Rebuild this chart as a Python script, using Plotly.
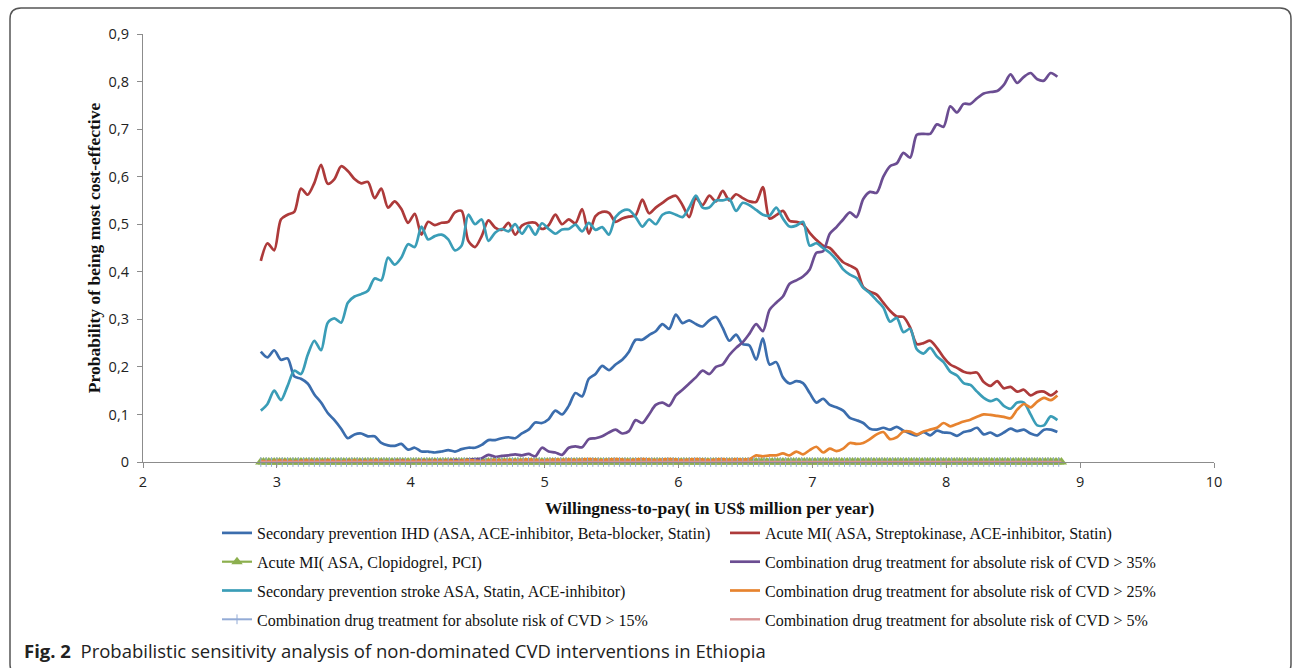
import numpy as np
import plotly.graph_objects as go

# ---------------- data ----------------
# willingness-to-pay grid (US$ million per year)
WTP = [round(2.88 + 0.05 * i, 2) for i in range(120)]
WTP_FINE = [round(2.88 + 0.02 * i, 2) for i in range(300)]

ihd = [0.232,0.22,0.235,0.215,0.218,0.18,0.175,0.165,0.142,0.125,
       0.103,0.088,0.07,0.05,0.058,0.06,0.054,0.054,0.04,0.035,
       0.034,0.038,0.026,0.03,0.022,0.022,0.02,0.022,0.025,0.022,
       0.027,0.03,0.03,0.036,0.046,0.046,0.05,0.052,0.05,0.06,
       0.068,0.083,0.082,0.09,0.108,0.1,0.118,0.145,0.138,0.175,
       0.185,0.202,0.193,0.205,0.215,0.232,0.257,0.257,0.267,0.275,
       0.29,0.28,0.31,0.292,0.298,0.29,0.285,0.298,0.305,0.282,
       0.255,0.268,0.248,0.245,0.215,0.26,0.205,0.21,0.178,0.165,
       0.17,0.166,0.145,0.125,0.133,0.12,0.115,0.108,0.093,0.088,
       0.082,0.07,0.068,0.072,0.068,0.074,0.066,0.06,0.056,0.063,
       0.056,0.066,0.062,0.061,0.055,0.063,0.066,0.072,0.058,0.062,
       0.055,0.062,0.07,0.065,0.068,0.06,0.056,0.068,0.068,0.063]

ami_strepto = [0.423,0.46,0.445,0.51,0.52,0.526,0.575,0.562,0.587,0.625,
       0.585,0.595,0.622,0.612,0.595,0.586,0.589,0.555,0.575,0.535,
       0.548,0.532,0.503,0.522,0.478,0.505,0.498,0.503,0.505,0.525,
       0.528,0.465,0.452,0.475,0.508,0.493,0.488,0.503,0.478,0.497,
       0.503,0.503,0.49,0.498,0.52,0.5,0.51,0.502,0.532,0.48,
       0.517,0.526,0.524,0.505,0.512,0.516,0.519,0.552,0.523,0.535,
       0.545,0.555,0.56,0.54,0.515,0.555,0.54,0.56,0.548,0.57,
       0.55,0.563,0.555,0.548,0.547,0.578,0.512,0.519,0.528,0.507,
       0.505,0.5,0.482,0.467,0.455,0.45,0.435,0.42,0.413,0.405,
       0.368,0.358,0.352,0.335,0.318,0.306,0.305,0.283,0.248,0.25,
       0.255,0.24,0.22,0.205,0.198,0.19,0.187,0.188,0.168,0.16,
       0.17,0.155,0.158,0.148,0.152,0.14,0.147,0.148,0.14,0.15]

ami_clopi = [0.0] * 300

cvd35 = [0.0,0.001,0.0,0.002,0.001,0.0,0.002,0.001,0.0,0.001,
       0.002,0.001,0.0,0.002,0.001,0.002,0.001,0.0,0.002,0.001,
       0.002,0.003,0.001,0.002,0.003,0.002,0.003,0.002,0.003,0.004,
       0.003,0.005,0.006,0.008,0.015,0.011,0.013,0.014,0.016,0.014,
       0.017,0.012,0.03,0.022,0.02,0.015,0.03,0.033,0.031,0.048,
       0.05,0.054,0.062,0.068,0.06,0.065,0.088,0.082,0.1,0.12,
       0.125,0.118,0.14,0.152,0.165,0.178,0.192,0.185,0.2,0.205,
       0.225,0.24,0.252,0.27,0.29,0.275,0.32,0.335,0.348,0.375,
       0.382,0.39,0.405,0.44,0.443,0.48,0.494,0.51,0.525,0.515,
       0.553,0.568,0.566,0.6,0.622,0.628,0.65,0.64,0.688,0.69,
       0.69,0.71,0.705,0.748,0.735,0.753,0.753,0.765,0.775,0.778,
       0.78,0.793,0.815,0.797,0.81,0.818,0.805,0.802,0.818,0.81]

stroke = [0.108,0.122,0.15,0.13,0.16,0.192,0.185,0.225,0.255,0.235,
       0.293,0.302,0.293,0.335,0.348,0.353,0.36,0.386,0.382,0.43,
       0.415,0.43,0.458,0.452,0.495,0.468,0.475,0.478,0.468,0.445,
       0.455,0.52,0.5,0.51,0.465,0.482,0.49,0.485,0.5,0.48,
       0.497,0.478,0.502,0.49,0.48,0.489,0.49,0.499,0.485,0.503,
       0.488,0.494,0.478,0.515,0.528,0.53,0.515,0.495,0.51,0.5,
       0.52,0.525,0.52,0.515,0.535,0.56,0.535,0.535,0.55,0.55,
       0.553,0.528,0.545,0.54,0.53,0.52,0.518,0.535,0.512,0.495,
       0.497,0.505,0.455,0.46,0.45,0.44,0.425,0.405,0.394,0.387,
       0.366,0.355,0.34,0.325,0.295,0.303,0.273,0.28,0.237,0.228,
       0.24,0.222,0.21,0.19,0.182,0.166,0.162,0.148,0.135,0.128,
       0.132,0.118,0.112,0.125,0.125,0.1,0.077,0.077,0.096,0.088]

cvd25 = [0.002,0.001,0.002,0.003,0.002,0.001,0.002,0.003,0.002,0.002,
       0.003,0.002,0.001,0.002,0.003,0.002,0.002,0.003,0.002,0.001,
       0.002,0.003,0.002,0.002,0.003,0.002,0.003,0.002,0.003,0.002,
       0.003,0.004,0.003,0.002,0.003,0.004,0.003,0.004,0.003,0.004,
       0.005,0.004,0.003,0.004,0.005,0.004,0.005,0.004,0.005,0.006,
       0.005,0.004,0.005,0.006,0.005,0.004,0.005,0.006,0.005,0.004,
       0.005,0.006,0.005,0.004,0.005,0.006,0.005,0.004,0.005,0.006,
       0.004,0.006,0.005,0.006,0.014,0.012,0.014,0.014,0.018,0.014,
       0.022,0.016,0.025,0.032,0.02,0.028,0.023,0.028,0.04,0.038,
       0.04,0.048,0.058,0.063,0.048,0.052,0.064,0.064,0.058,0.064,
       0.068,0.072,0.082,0.075,0.08,0.085,0.089,0.095,0.1,0.099,
       0.097,0.095,0.092,0.11,0.122,0.115,0.127,0.135,0.13,0.14]

cvd15 = [0.0] * 300
cvd5 = [0.0] * 300

Y_TICKS = [0, 0.1, 0.2, 0.3, 0.4, 0.5, 0.6, 0.7, 0.8, 0.9]
Y_TICK_TEXT = ["0", "0,1", "0,2", "0,3", "0,4", "0,5", "0,6", "0,7", "0,8", "0,9"]
X_TICKS = [2, 3, 4, 5, 6, 7, 8, 9, 10]

NAMES = {
    "ihd": "Secondary prevention IHD (ASA, ACE-inhibitor, Beta-blocker, Statin)",
    "strepto": "Acute MI( ASA, Streptokinase, ACE-inhibitor, Statin)",
    "clopi": "Acute MI( ASA, Clopidogrel, PCI)",
    "c35": "Combination drug treatment for absolute risk of CVD > 35%",
    "stroke": "Secondary prevention stroke ASA, Statin, ACE-inhibitor)",
    "c25": "Combination drug treatment for absolute risk of CVD > 25%",
    "c15": "Combination drug treatment for absolute risk of CVD > 15%",
    "c5": "Combination drug treatment for absolute risk of CVD > 5%",
}
X_TITLE = "Willingness-to-pay( in US$ million per year)"
Y_TITLE = "Probability of being most cost-effective"
CAPTION = ("<b>Fig. 2</b>\u00a0\u00a0Probabilistic sensitivity analysis of "
           "non-dominated CVD interventions in Ethiopia")

# ---------------- layout geometry ----------------
W, H = 1293, 668
L, R, T, B = 143, 1214, 34, 462  # plot area in pixels


def px(xp):
    return (xp - L) / (R - L)


def py(yp):
    return (B - yp) / (B - T)


SERIF = "Liberation Serif"
fig = go.Figure()

LW = 2.7


def line_trace(x, y, name, color, legend, group):
    return go.Scatter(x=x, y=y, name=name, mode="lines",
                      line=dict(color=color, width=LW, shape="spline", smoothing=0.8),
                      legend=legend, legendgroup=group, hoverinfo="x+y+name")


fig.add_trace(line_trace(WTP, ihd, NAMES["ihd"], "#3B6DAD", "legend", "g1"))
fig.add_trace(line_trace(WTP, ami_strepto, NAMES["strepto"], "#AD3A3A", "legend2", "g2"))
fig.add_trace(go.Scatter(x=WTP_FINE, y=ami_clopi, name=NAMES["clopi"], mode="lines+markers",
                         line=dict(color="#8CAF4E", width=2.2),
                         marker=dict(symbol="triangle-up", size=10, color="#8CAF4E"),
                         cliponaxis=False, legend="legend", legendgroup="g3"))
fig.add_trace(line_trace(WTP, cvd35, NAMES["c35"], "#6B4D92", "legend2", "g4"))
fig.add_trace(line_trace(WTP, stroke, NAMES["stroke"], "#3A9DB7", "legend", "g5"))
fig.add_trace(line_trace(WTP, cvd25, NAMES["c25"], "#E7832F", "legend2", "g6"))
fig.add_trace(go.Scatter(x=WTP_FINE[::2], y=cvd15[::2], name=NAMES["c15"], mode="lines+markers",
                         line=dict(color="#93ABD6", width=2.0),
                         marker=dict(symbol="line-ns-open", size=7, color="#93ABD6",
                                     line=dict(color="#93ABD6", width=1.0)),
                         cliponaxis=False, legend="legend", legendgroup="g7"))
fig.add_trace(go.Scatter(x=WTP_FINE, y=cvd5, name=NAMES["c5"], mode="lines",
                         line=dict(color="#D99595", width=2.4),
                         cliponaxis=False, legend="legend2", legendgroup="g8"))

legend_common = dict(orientation="v", xref="paper", yref="paper",
                     xanchor="left", yanchor="top", bgcolor="rgba(0,0,0,0)",
                     font=dict(family=SERIF, size=16, color="#111"),
                     tracegroupgap=5, itemwidth=30)

# frame around figure and caption
x0, x1, y0, y1, r = 10, 1291, 8, 675, 11
frame_path = (
    f"M {px(x0 + r)},{py(y0)} L {px(x1 - r)},{py(y0)} "
    f"Q {px(x1)},{py(y0)} {px(x1)},{py(y0 + r)} "
    f"L {px(x1)},{py(y1 - r)} Q {px(x1)},{py(y1)} {px(x1 - r)},{py(y1)} "
    f"L {px(x0 + r)},{py(y1)} Q {px(x0)},{py(y1)} {px(x0)},{py(y1 - r)} "
    f"L {px(x0)},{py(y0 + r)} Q {px(x0)},{py(y0)} {px(x0 + r)},{py(y0)} Z"
)

fig.update_layout(
    width=W, height=H,
    margin=dict(l=L, r=W - R, t=T, b=H - B, pad=0, autoexpand=False),
    paper_bgcolor="white", plot_bgcolor="white",
    separators=", ",
    showlegend=True,
    legend=dict(legend_common, x=px(217), y=py(516)),
    legend2=dict(legend_common, x=px(725), y=py(516)),
    xaxis=dict(range=[2, 10], tickvals=X_TICKS, showgrid=False, zeroline=False,
               automargin=False,
               showline=True, linecolor="#8c8c8c", linewidth=1.3,
               ticks="outside", ticklen=5, tickcolor="#8c8c8c", tickwidth=1.3,
               ticklabelstandoff=1,
               tickfont=dict(family="Open Sans", size=14.5, color="#222")),
    yaxis=dict(range=[0, 0.9], tickvals=Y_TICKS, ticktext=Y_TICK_TEXT,
               showgrid=False, zeroline=False, automargin=False,
               showline=True, linecolor="#8c8c8c", linewidth=1.3,
               ticks="outside", ticklen=5, tickcolor="#8c8c8c", tickwidth=1.3,
               ticklabelstandoff=5,
               tickfont=dict(family="Open Sans", size=14.5, color="#222"),
               title=dict(text=f"<b>{Y_TITLE}</b>",
                          font=dict(family=SERIF, size=17.5, color="#111"), standoff=3)),
    shapes=[dict(type="path", xref="paper", yref="paper", path=frame_path,
                 line=dict(color="#555", width=1.5), fillcolor="rgba(0,0,0,0)",
                 layer="below")],
    annotations=[
        dict(xref="paper", yref="paper", x=px(710), y=py(508),
             xanchor="center", yanchor="middle", showarrow=False,
             text=f"<b>{X_TITLE}</b>",
             font=dict(family=SERIF, size=17.5, color="#111")),
        dict(xref="paper", yref="paper", x=px(22), y=py(650),
             xanchor="left", yanchor="middle", showarrow=False,
             text=CAPTION,
             font=dict(family="Open Sans", size=18.5, color="#222")),
    ],
)

fig.write_html("out.html", config={"displayModeBar": False},
               post_script="document.body.style.margin='0px';")
